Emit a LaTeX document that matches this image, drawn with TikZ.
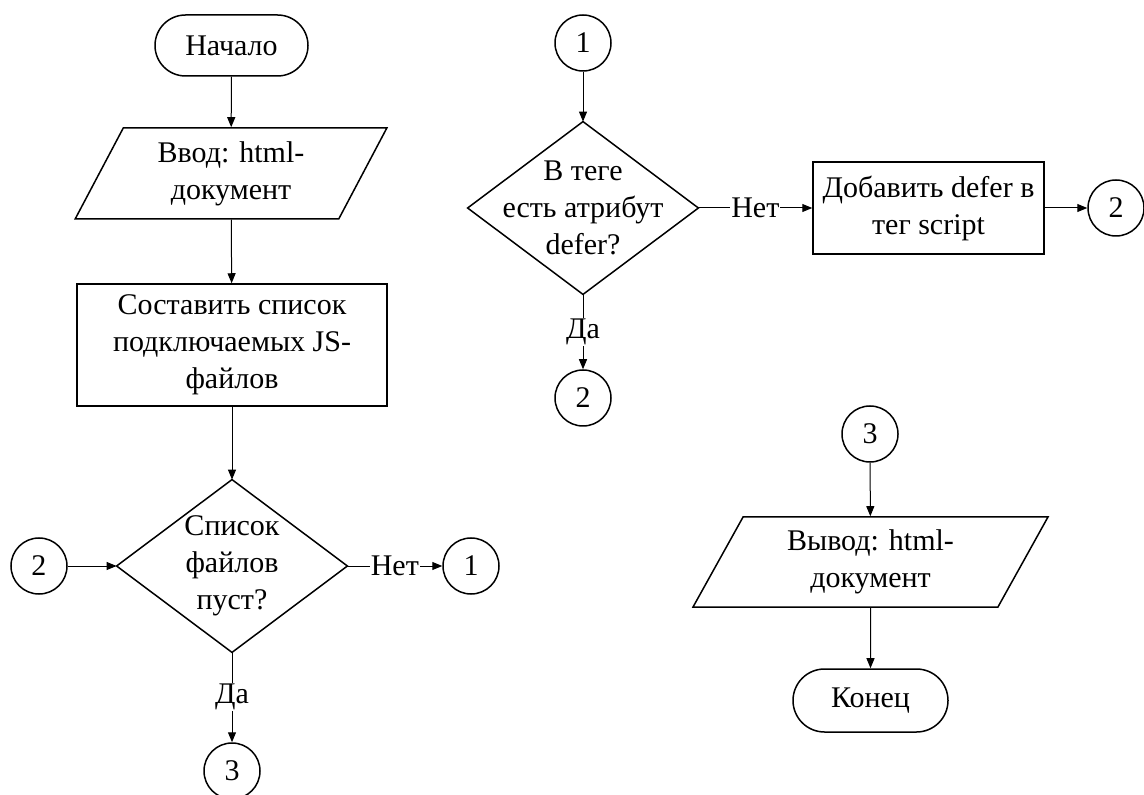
\documentclass[tikz,border=0pt]{standalone}
\usepackage{fontspec}
\setmainfont{Liberation Serif}
\usetikzlibrary{shapes.geometric,shapes.misc,arrows.meta}
\begin{document}
\begin{tikzpicture}[x=0.5pt,y=-0.5pt,
  every node/.style={font=\fontsize{15}{18.5}\selectfont, align=center},
  outline/.style={draw, line width=0.75pt},
  term/.style={rounded rectangle, outline, minimum width=76.5pt, minimum height=30.5pt, inner sep=0pt},
  io/.style={trapezium, trapezium left angle=63, trapezium right angle=117,
             trapezium stretches=true, outline, minimum height=45.5pt, inner sep=0pt},
  proc/.style={rectangle, outline, inner sep=0pt},
  decision/.style={rectangle, minimum width=115pt, minimum height=86pt, inner sep=0pt},
  conn/.style={circle, outline, minimum size=28pt, inner sep=0pt},
  flow/.style={draw, line width=0.5pt, -{Triangle[length=5pt,width=4pt]}},
  lbl/.style={fill=white, inner sep=0.5pt}
]
\useasboundingbox (0,0) rectangle (1144,795);

% ---- main column ----
\node[term] (start) at (231.5,45.5) {Начало};
\node[io, minimum width=156pt] (input) at (231,173.5) {Ввод: html-\\документ};
\node[proc, minimum width=155pt, minimum height=61pt] (list) at (232,345)
  {Составить список\\подключаемых JS-\\файлов};
\node[decision] (empty) at (232,566) {Список\\файлов\\пуст?};
\draw[outline] (empty.north) -- (empty.east) -- (empty.south) -- (empty.west) -- cycle;
\node[conn] (back2) at (39,566) {2};
\node[conn] (go1) at (471,566) {1};
\node[conn] (go3) at (232,771) {3};

\draw[flow] (start) -- (input);
\draw[flow] (input) -- (list);
\draw[flow] (list) -- (empty.north);
\draw[flow] (back2) -- (empty.west);
\draw[flow] (empty.east) -- node[lbl] {Нет} (go1);
\draw[flow] (empty.south) -- node[lbl] {Да} (go3);

% ---- defer check ----
\node[conn] (from1) at (583,43) {1};
\node[decision] (hasdefer) at (583,208) {В теге\\есть атрибут\\defer?};
\draw[outline] (hasdefer.north) -- (hasdefer.east) -- (hasdefer.south) -- (hasdefer.west) -- cycle;
\node[proc, minimum width=115.5pt, minimum height=46pt] (adddefer) at (928.5,208)
  {Добавить defer в\\тег script};
\node[conn] (next2a) at (1116,208) {2};
\node[conn] (next2b) at (583,398) {2};

\draw[flow] (from1) -- (hasdefer.north);
\draw[flow] (hasdefer.east) -- node[lbl] {Нет} (adddefer);
\draw[flow] (adddefer) -- (next2a);
\draw[flow] (hasdefer.south) -- node[lbl] {Да} (next2b);

% ---- output ----
\node[conn] (from3) at (870,434) {3};
\node[io, minimum width=177.5pt, minimum height=45pt] (output) at (870.5,562) {Вывод: html-\\документ};
\node[term, minimum width=77.5pt, minimum height=31.5pt] (stop) at (870.5,700.5) {Конец};

\draw[flow] (from3) -- (output);
\draw[flow] (output) -- (stop);
\end{tikzpicture}
\end{document}
